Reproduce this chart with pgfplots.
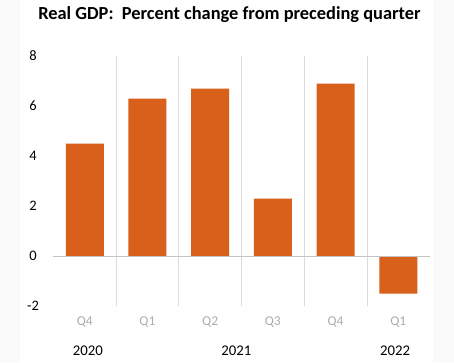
\documentclass[border=0pt]{standalone}
\usepackage{pgfplots}
\pgfplotsset{compat=1.18}
\usepackage{fontspec}
\setmainfont{Carlito}
\definecolor{barorange}{HTML}{D9601A}
\definecolor{sepgray}{HTML}{DCDCDC}
\definecolor{zerogray}{HTML}{C4C4C4}
\definecolor{qgray}{HTML}{ADADAD}
\definecolor{outergray}{HTML}{FAFAFA}
\begin{document}
\begin{tikzpicture}[x=1pt,y=1pt]
\useasboundingbox (0,0) rectangle (454,362);
\fill[outergray] (0,0) rectangle (454,362);
\fill[white] (20,0) rectangle (433,362);
\node[font=\fontsize{18.4}{20}\selectfont\bfseries] at (229.5,347) {Real GDP:\ \ Percent change from preceding quarter};
\begin{axis}[
  at={(53.4pt,56pt)}, anchor=south west,
  scale only axis, width=376.2pt, height=250pt,
  xmin=-0.5, xmax=5.5, ymin=-2, ymax=8,
  axis line style={draw=none},
  clip=false,
  ytick={-2,0,2,4,6,8},
  xtick={0,1,2,3,4,5},
  xticklabels={Q4,Q1,Q2,Q3,Q4,Q1},
  minor xtick={0.5,1.5,2.5,3.5,4.5},
  xminorgrids=true,
  minor grid style={sepgray, line width=0.8pt},
  major tick length=0pt, minor tick length=0pt,
  tick style={draw=none},
  /pgf/number format/assume math mode=true,
  yticklabel style={font=\fontsize{14.5}{16}\selectfont, anchor=center, xshift=-20.4pt},
  xticklabel style={font=\fontsize{13.5}{15}\selectfont, text=qgray, anchor=center, yshift=-16pt},
  ybar, bar width=38pt,
]
\addplot[fill=barorange, draw=none] coordinates {(0,4.5) (1,6.3) (2,6.7) (3,2.3) (4,6.9) (5,-1.5)};
\draw[zerogray, line width=1pt] (axis cs:-0.5,0) -- (axis cs:5.5,0);
\node[font=\fontsize{14.8}{16}\selectfont, anchor=center] at (axis cs:0.05,-2) [yshift=-45pt] {2020};
\node[font=\fontsize{14.8}{16}\selectfont, anchor=center] at (axis cs:2.42,-2) [yshift=-45pt] {2021};
\node[font=\fontsize{14.8}{16}\selectfont, anchor=center] at (axis cs:4.95,-2) [yshift=-45pt] {2022};
\end{axis}
\end{tikzpicture}
\end{document}
